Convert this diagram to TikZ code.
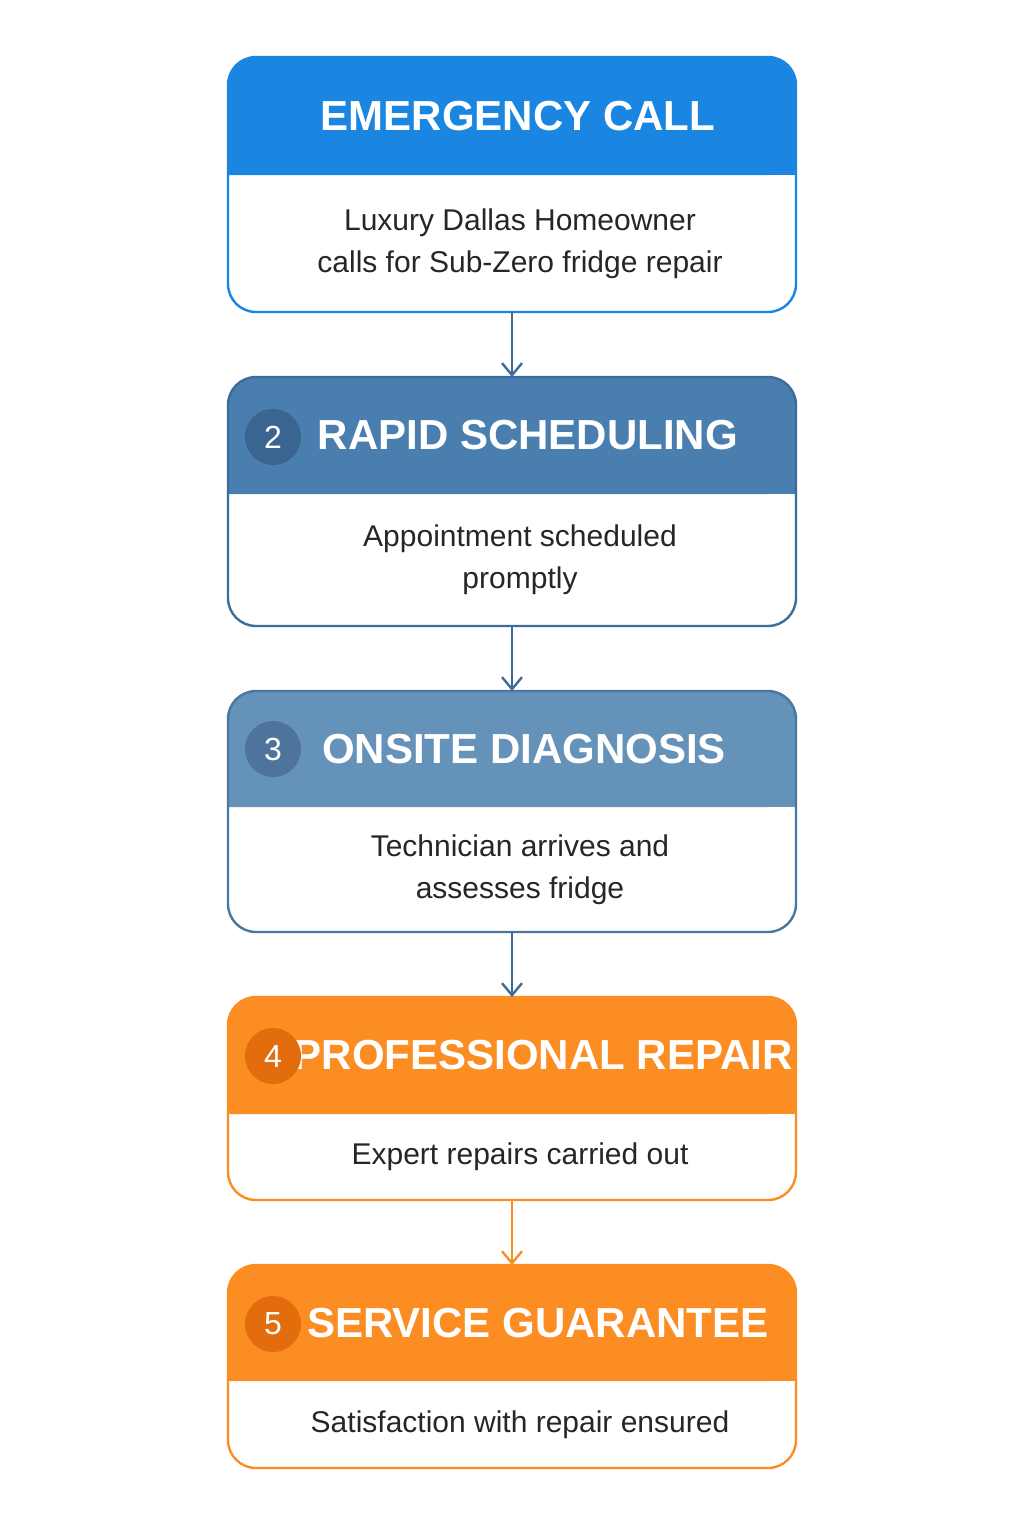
\documentclass[tikz,border=0pt]{standalone}
\usepackage{fontspec}
\setmainfont{Liberation Sans}
\usetikzlibrary{arrows.meta}

\definecolor{callblue}{HTML}{1A86E2}
\definecolor{schedblue}{HTML}{4A7EAF}
\definecolor{schedline}{HTML}{3D6C98}
\definecolor{diagblue}{HTML}{6592B9}
\definecolor{diagline}{HTML}{4A77A2}
\definecolor{repairorange}{HTML}{FB8D23}
\definecolor{numdark}{HTML}{3A6590}
\definecolor{numorange}{HTML}{E36D0C}

% one step: #1 name, #2 top, #3 header bottom, #4 bottom, #5 fill, #6 line,
% #7 title x, #8 title, #9 body
\newcommand{\stepbox}[9]{%
  \fill[#5, rounded corners=14] (228,-#3) -- (228,-#2) -- (796,-#2) -- (796,-#3) [sharp corners] -- cycle;
  \fill[#5] (228,-#3) rectangle (796,-#3+20);
  \draw[#6, line width=1.2pt, rounded corners=14] (228,-#2) rectangle (796,-#4);
  \node[title] (#1t) at (#7,-#2/2-#3/2) {#8};
  \node[body] (#1) at (520,-#3/2-#4/2) {#9};
  \coordinate (#1n) at (512,-#2);
  \coordinate (#1s) at (512,-#4);
}

\begin{document}
\begin{tikzpicture}[x=0.5pt, y=0.5pt,
    >={Straight Barb[length=6pt, width=10pt]},
    ]
\tikzset{
  title/.style={text=white, font=\fontsize{21}{24}\selectfont\bfseries},
  body/.style={align=center, text=black!85, font=\fontsize{15}{21}\selectfont},
  num/.style={circle, minimum size=28pt, inner sep=0pt, text=white, font=\fontsize{16}{16}\selectfont},
  link/.style={->, line width=1.2pt}
}
\useasboundingbox (0,0) rectangle (1024,-1536);
% -------------------------------------------------
\stepbox{s1}{57}{175}{312}{callblue}{callblue}{518}{EMERGENCY CALL}{Luxury Dallas Homeowner\\calls for Sub-Zero fridge repair}
\stepbox{s2}{377}{494}{626}{schedblue}{schedline}{528}{RAPID SCHEDULING}{Appointment scheduled\\promptly}
\stepbox{s3}{691}{807}{932}{diagblue}{diagline}{524}{ONSITE DIAGNOSIS}{Technician arrives and\\assesses fridge}
\stepbox{s4}{997}{1114}{1200}{repairorange}{repairorange}{543}{PROFESSIONAL REPAIR}{Expert repairs carried out}
\stepbox{s5}{1265}{1381}{1468}{repairorange}{repairorange}{538}{SERVICE GUARANTEE}{Satisfaction with repair ensured}

% numbered badges
\node[num, fill=numdark] (n2) at (273,-437) {2};
\node[num, fill=numdark!90] (n3) at (273,-749) {3};
\node[num, fill=numorange] (n4) at (273,-1056) {4};
\node[num, fill=numorange] (n5) at (273,-1324) {5};

% -------------------------------------------------
\draw[link, schedline] (s1s) -- (s2n);
\draw[link, schedline] (s2s) -- (s3n);
\draw[link, schedline] (s3s) -- (s4n);
\draw[link, repairorange] (s4s) -- (s5n);
\end{tikzpicture}
\end{document}
